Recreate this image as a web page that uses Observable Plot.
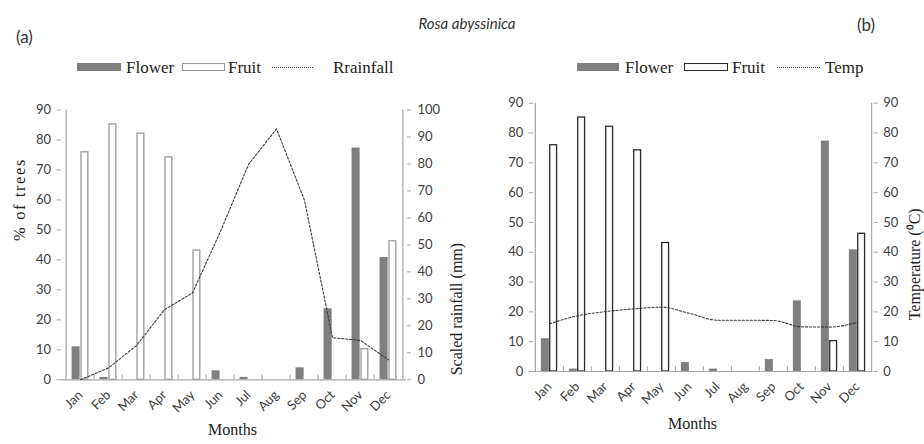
<!DOCTYPE html>
<html>
<head>
<meta charset="utf-8">
<script src="https://cdn.jsdelivr.net/npm/d3@7"></script>
<script src="https://cdn.jsdelivr.net/npm/@observablehq/plot@0.6"></script>
<style>
  body { margin: 0; background: #fff; }
  #wrap { position: relative; width: 924px; height: 444px; overflow: hidden; background: #fff; }
  #wrap svg { position: absolute; top: 0; }
  .lab { position: absolute; white-space: nowrap; line-height: 1; }
  .serif { font-family: "Liberation Serif", "Times New Roman", serif; font-size: 17px; color: #222; }
  .sw { position: absolute; height: 8px; }
  .dot { position: absolute; height: 0; border-top: 1.3px dotted #333; }
</style>
</head>
<body>
<div id="wrap"></div>
<script>
// ---------- data ----------
const months = ["Jan","Feb","Mar","Apr","May","Jun","Jul","Aug","Sep","Oct","Nov","Dec"];
const flower = [11, 0.8, 0, 0, 0, 3, 0.8, 0, 4, 23.7, 77.3, 40.8];
const fruit = [75.9, 85.2, 82.1, 74.2, 43.1, 0, 0, 0, 0, 0, 10.2, 46.2];
const rainfall = [0, 4.4, 12.7, 26, 32.2, 55, 79.8, 93, 66.5, 15.6, 14.6, 7.4];
const temp = [16, 18.7, 20.1, 21, 21.6, 19.5, 17.2, 17.2, 17.1, 15, 14.9, 16.5];
const pctTicks = [0, 10, 20, 30, 40, 50, 60, 70, 80, 90];
const rainTicks = [0, 10, 20, 30, 40, 50, 60, 70, 80, 90, 100];
const tempTicks = [0, 10, 20, 30, 40, 50, 60, 70, 80, 90];

const rows = months.map((m, i) => ({month: m, flower: flower[i], fruit: fruit[i], rain: rainfall[i], temp: temp[i]}));
const rainK = 90 / 100; // right axis 0–100 mapped onto the left 0–90 range

const wrap = document.getElementById("wrap");
const axisGray = "#a6a6a6";
const textGray = "#404040";
const serif = "Liberation Serif, Times New Roman, serif";
const dash = "2.2,1.8";

function panel(opts) {
  const {mL, mR, mT, mB, fruitStroke, barW, lineMarks, rightAxis, yTitle, rTitle, monthsD} = opts;
  const bw = (462 - mL - mR) / 12;
  const marks = [
    Plot.barY(rows.filter(d => d.flower > 0), {x: "month", y: "flower", fill: "#7f7f7f",
      insetLeft: bw / 2 - barW, insetRight: bw / 2}),
    Plot.barY(rows.filter(d => d.fruit > 0), {x: "month", y: "fruit", fill: "white", stroke: fruitStroke, strokeWidth: 1.3,
      insetLeft: bw / 2 + 0.6, insetRight: bw / 2 - barW + 0.6}),
    Plot.ruleY([0], {stroke: axisGray, strokeWidth: 1.2}),
    Plot.ruleX(["Jan"], {y1: 0, y2: 90, dx: -bw / 2, stroke: axisGray, strokeWidth: 1.2}),
    Plot.ruleX(["Dec"], {y1: 0, y2: 90, dx: bw / 2, stroke: axisGray, strokeWidth: 1.2}),
    Plot.ruleX(months.slice(1), {y1: 0, y2: 1.6, dx: -bw / 2, stroke: axisGray, strokeWidth: 1}),
    ...lineMarks,
    Plot.axisY({anchor: "left", ticks: pctTicks, tickSize: 4.5, tickPadding: 6, stroke: axisGray, fill: textGray, label: null}),
    rightAxis,
    Plot.axisX({anchor: "bottom", tickSize: 0, tickPadding: 13, tickRotate: -45, fill: textGray, label: null}),
    Plot.text(["Months"], {frameAnchor: "bottom", dx: monthsD[0], dy: monthsD[1], fontFamily: serif, fontSize: 16, fill: "#222"}),
    Plot.text([rTitle[0]], {frameAnchor: "right", rotate: -90, dx: rTitle[1], dy: rTitle[2], fontFamily: serif, fontSize: 16, fill: "#222"})
  ];
  if (yTitle) marks.push(Plot.text([yTitle[0]], {frameAnchor: "left", rotate: -90, dx: yTitle[1], dy: yTitle[2], fontFamily: serif, fontSize: 16.5, fill: "#222"}));
  return Plot.plot({
    width: 462, height: 444,
    marginLeft: mL, marginRight: mR, marginTop: mT, marginBottom: mB,
    style: {fontFamily: "Lato, sans-serif", fontSize: "13px", background: "transparent", overflow: "visible"},
    x: {domain: months, padding: 0},
    y: {domain: [0, 90]},
    marks
  });
}

const svgA = panel({
  mL: 61, mR: 56, mT: 109.5, mB: 64.7, fruitStroke: "#9a9a9a", barW: 8.8,
  lineMarks: [Plot.line(rows, {x: "month", y: d => d.rain * rainK, stroke: "#3a3a3a", strokeWidth: 1.1, strokeDasharray: dash})],
  rightAxis: Plot.axisY({anchor: "right", ticks: rainTicks.map(v => v * rainK), tickFormat: v => Math.round(v / rainK),
    tickSize: 4, tickPadding: 7, stroke: axisGray, fill: textGray, label: null}),
  yTitle: ["% of trees", -42, -4],
  rTitle: ["Scaled rainfall (mm)", 50, -2],
  monthsD: [-1.5, 55]
});
svgA.style.left = "0px";
wrap.appendChild(svgA);
// the reference's "% of trees" title is loosely spaced
d3.select(svgA).selectAll("text").filter(function () { return this.textContent === "% of trees"; })
  .attr("letter-spacing", "1.6px");

const svgB = panel({
  mL: 71.3, mR: 51.3, mT: 102.7, mB: 73, fruitStroke: "#2a2a2a", barW: 8.3,
  lineMarks: [Plot.line(rows, {x: "month", y: "temp", curve: "monotone-x", stroke: "#3a3a3a", strokeWidth: 1.1, strokeDasharray: dash})],
  rightAxis: Plot.axisY({anchor: "right", ticks: tempTicks, tickSize: 4, tickPadding: 6, stroke: axisGray, fill: textGray, label: null}),
  yTitle: null,
  rTitle: ["Temperature (\u2070C)", 42, -29],
  monthsD: [-11, 57]
});
svgB.style.left = "462px";
wrap.appendChild(svgB);

// ---------- titles & legends ----------
function lab(text, x, yMid, cls, extra) {
  const d = document.createElement("div");
  d.className = "lab " + cls;
  d.textContent = text;
  d.style.left = x + "px";
  d.style.top = yMid + "px";
  d.style.transform = "translateY(-50%)";
  if (extra) Object.assign(d.style, extra);
  wrap.appendChild(d);
  return d;
}
function swatch(x, w, yMid, fill, stroke) {
  const d = document.createElement("div");
  d.className = "sw";
  d.style.left = x + "px"; d.style.width = w + "px";
  d.style.top = (yMid - 4.5) + "px";
  d.style.background = fill;
  d.style.boxSizing = "border-box";
  if (stroke) d.style.border = "1.3px solid " + stroke;
  wrap.appendChild(d);
}
function dotted(x, w, yMid) {
  const d = document.createElement("div");
  d.className = "dot";
  d.style.left = x + "px"; d.style.width = w + "px"; d.style.top = yMid + "px";
  wrap.appendChild(d);
}

const t = lab("Rosa abyssinica", 467, 23, "", {fontFamily: "Lato, sans-serif", fontStyle: "italic", fontSize: "15px", color: "#333"});
t.style.transform = "translate(-50%, -50%)";
lab("(a)", 16, 35.5, "", {fontFamily: "Lato, sans-serif", fontSize: "17px", color: "#333"});
lab("(b)", 857, 23.5, "", {fontFamily: "Lato, sans-serif", fontSize: "17px", color: "#333"});

// legend (a)
swatch(77, 44, 67, "#7f7f7f");
lab("Flower", 126, 67, "serif");
swatch(182, 43, 67, "#fff", "#9a9a9a");
lab("Fruit", 228, 67, "serif");
dotted(272, 41, 67);
lab("Rrainfall", 333, 67, "serif");

// legend (b)
swatch(577, 42, 67, "#7f7f7f");
lab("Flower", 625, 67, "serif");
swatch(684, 44, 67, "#fff", "#2a2a2a");
lab("Fruit", 732, 67, "serif");
dotted(777, 43, 67);
lab("Temp", 825, 67, "serif");
</script>
</body>
</html>
